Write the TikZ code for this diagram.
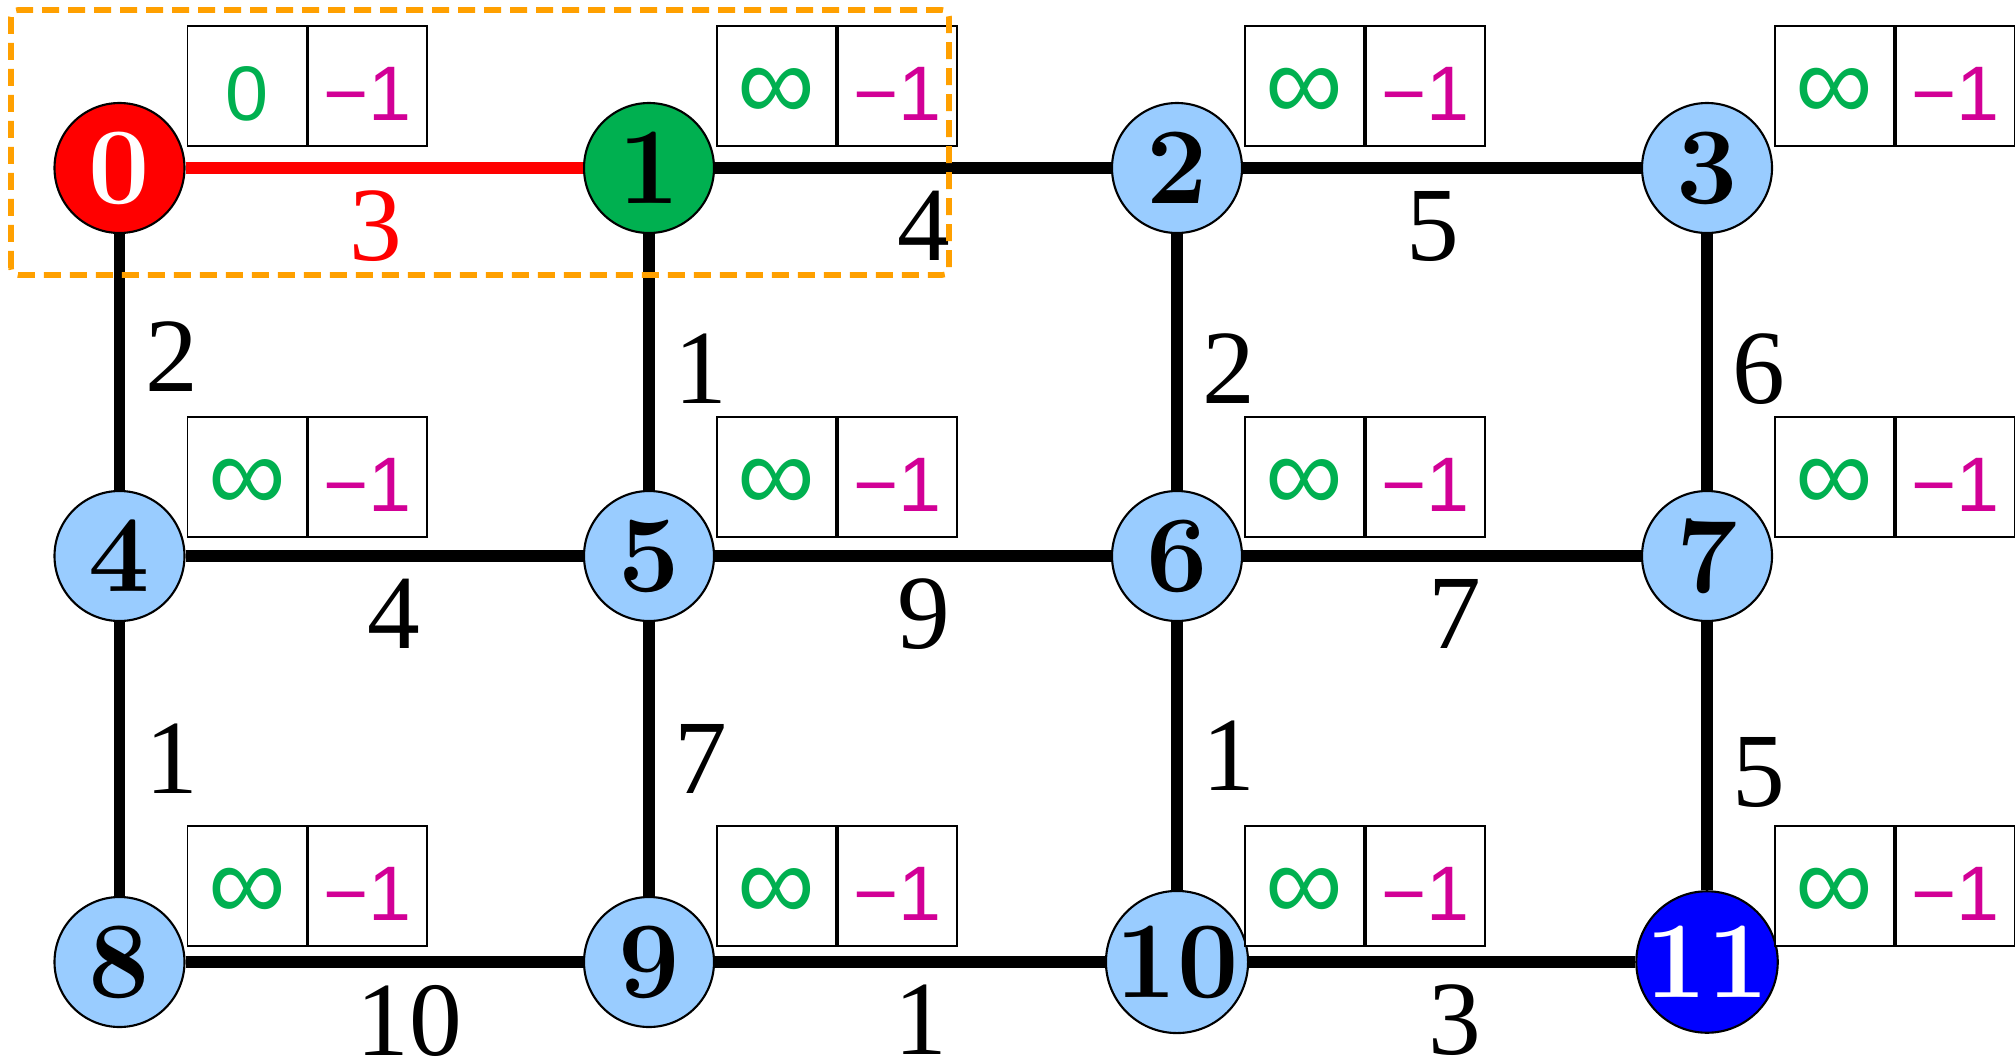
\documentclass[tikz,border=0pt]{standalone}
\usepackage{fontspec}
\usepackage{xcolor}
\usepackage{tikz}
\usetikzlibrary{positioning}
\newfontfamily\boxfont{Liberation Sans}
\newfontfamily\weightfont{Liberation Serif}
\newcommand{\infsign}{{\fontsize{31}{31}\selectfont ∞}}
\definecolor{tikzred}{RGB}{255, 0, 0}
\definecolor{tikzgreen}{RGB}{0, 176, 80}
\definecolor{tikzblue}{RGB}{0, 0, 255}
\definecolor{tikzsky}{RGB}{153, 204, 255}
\definecolor{tikzmagenta}{RGB}{210, 0, 150}
\definecolor{tikzorange}{RGB}{255, 160, 0}
\tikzset{
  vertex/.style={
    circle, draw=black, line width=0.6pt,
    minimum size=1.3cm, inner sep=0pt,
    font=\fontsize{31}{31}\selectfont\bfseries,
    fill=#1, text=black
  },
  distbox/.style={
    rectangle, draw=black, line width=0.5pt, fill=white,
    minimum width=1.19cm, minimum height=1.2cm, inner sep=0pt,
    text height=0.68cm, text depth=0pt,
    font=\boxfont\fontsize{22}{22}\selectfont, text=tikzgreen
  },
  predbox/.style={distbox, text=tikzmagenta},
  link/.style={line width=3.4pt, color=#1},
  link/.default=black,
}

\begin{document}
\begin{tikzpicture}[
  x=1cm, y=1cm,
  hlabel/.style={below=0.17cm, inner sep=0pt,
    font=\weightfont\fontsize{30}{30}\selectfont, text=black},
  vlabel/.style={right=0.2cm, inner sep=0pt,
    font=\weightfont\fontsize{30}{30}\selectfont, text=black},
  focus/.style={draw=tikzorange, line width=1.6pt,
    dash pattern=on 0.17cm off 0.09cm, rounded corners=2pt}
]
\useasboundingbox (0, 0) rectangle (20.15, 10.61);

% ── Vertices ──────────────────────────────────────────────
\node[vertex={tikzred}, text=white] (n0)  at (1.195, 8.93) {0};
\node[vertex={tikzgreen}]           (n1)  at (6.49, 8.93)  {1};
\node[vertex={tikzsky}]             (n2)  at (11.77, 8.93) {2};
\node[vertex={tikzsky}]             (n3)  at (17.07, 8.93) {3};

\node[vertex={tikzsky}]             (n4)  at (1.195, 5.05) {4};
\node[vertex={tikzsky}]             (n5)  at (6.49, 5.05)  {5};
\node[vertex={tikzsky}]             (n6)  at (11.77, 5.05) {6};
\node[vertex={tikzsky}]             (n7)  at (17.07, 5.05) {7};

\node[vertex={tikzsky}]             (n8)  at (1.195, 0.99) {8};
\node[vertex={tikzsky}]             (n9)  at (6.49, 0.99)  {9};
\node[vertex={tikzsky}]             (n10) at (11.77, 0.99) {10};
\node[vertex={tikzblue}, text=white] (n11) at (17.07, 0.99) {11};

% ── Distance / predecessor tables ─────────────────────────
\node[distbox, anchor=south west] (d0)  at ([shift={(0.67, 0.21)}]n0.center)  {0};
\node[predbox, right=0pt of d0]   (p0)  {−1};
\node[distbox, anchor=south west] (d1)  at ([shift={(0.67, 0.21)}]n1.center)  {\infsign};
\node[predbox, right=0pt of d1]   (p1)  {−1};
\node[distbox, anchor=south west] (d2)  at ([shift={(0.67, 0.21)}]n2.center)  {\infsign};
\node[predbox, right=0pt of d2]   (p2)  {−1};
\node[distbox, anchor=south west] (d3)  at ([shift={(0.67, 0.21)}]n3.center)  {\infsign};
\node[predbox, right=0pt of d3]   (p3)  {−1};

\node[distbox, anchor=south west] (d4)  at ([shift={(0.67, 0.18)}]n4.center)  {\infsign};
\node[predbox, right=0pt of d4]   (p4)  {−1};
\node[distbox, anchor=south west] (d5)  at ([shift={(0.67, 0.18)}]n5.center)  {\infsign};
\node[predbox, right=0pt of d5]   (p5)  {−1};
\node[distbox, anchor=south west] (d6)  at ([shift={(0.67, 0.18)}]n6.center)  {\infsign};
\node[predbox, right=0pt of d6]   (p6)  {−1};
\node[distbox, anchor=south west] (d7)  at ([shift={(0.67, 0.18)}]n7.center)  {\infsign};
\node[predbox, right=0pt of d7]   (p7)  {−1};

\node[distbox, anchor=south west] (d8)  at ([shift={(0.67, 0.15)}]n8.center)  {\infsign};
\node[predbox, right=0pt of d8]   (p8)  {−1};
\node[distbox, anchor=south west] (d9)  at ([shift={(0.67, 0.15)}]n9.center)  {\infsign};
\node[predbox, right=0pt of d9]   (p9)  {−1};
\node[distbox, anchor=south west] (d10) at ([shift={(0.67, 0.15)}]n10.center) {\infsign};
\node[predbox, right=0pt of d10]  (p10) {−1};
\node[distbox, anchor=south west] (d11) at ([shift={(0.67, 0.15)}]n11.center) {\infsign};
\node[predbox, right=0pt of d11]  (p11) {−1};

% ── Edges: rows ───────────────────────────────────────────
\draw[link=tikzred] (n0) -- node[hlabel, xshift=-0.08cm, text=tikzred] (w01) {3} (n1);
\draw[link] (n1)  -- node[hlabel, xshift=0.11cm]  (w12)   {4}  (n2);
\draw[link] (n2)  -- node[hlabel, xshift=-0.09cm] (w23)   {5}  (n3);
\draw[link] (n4)  -- node[hlabel, xshift=0.10cm]  (w45)   {4}  (n5);
\draw[link] (n5)  -- node[hlabel, xshift=0.11cm]  (w56)   {9}  (n6);
\draw[link] (n6)  -- node[hlabel, xshift=0.13cm]  (w67)   {7}  (n7);
\draw[link] (n8)  -- node[hlabel, xshift=0.25cm]  (w89)   {10} (n9);
\draw[link] (n9)  -- node[hlabel, xshift=0.11cm]  (w910)  {1}  (n10);
\draw[link] (n10) -- node[hlabel, xshift=0.13cm]  (w1011) {3}  (n11);

% ── Edges: columns ────────────────────────────────────────
\draw[link] (n0) -- node[vlabel, yshift=0.05cm]  (w04)  {2} (n4);
\draw[link] (n1) -- node[vlabel, yshift=-0.07cm] (w15)  {1} (n5);
\draw[link] (n2) -- node[vlabel, yshift=-0.07cm] (w26)  {2} (n6);
\draw[link] (n3) -- node[vlabel, yshift=-0.07cm] (w37)  {6} (n7);
\draw[link] (n4) -- node[vlabel]                 (w48)  {1} (n8);
\draw[link] (n5) -- node[vlabel]                 (w59)  {7} (n9);
\draw[link] (n6) -- node[vlabel]                 (w610) {1} (n10);
\draw[link] (n7) -- node[vlabel, yshift=-0.16cm] (w711) {5} (n11);

% ── Current step frame ────────────────────────────────────
\draw[focus] (0.11, 7.86) rectangle (9.49, 10.51);

\end{tikzpicture}
\end{document}
